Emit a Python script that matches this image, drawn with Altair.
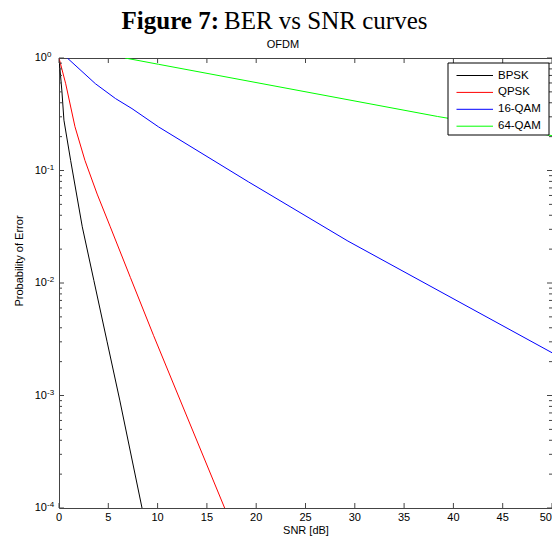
import altair as alt
import pandas as pd

# ---- data (SNR in dB, probability of error) ----
series = ["BPSK", "QPSK", "16-QAM", "64-QAM"]
colors = ["#000000", "#ff0000", "#0000ff", "#00ff00"]

bpsk_snr = [0, 0.3, 0.5, 1.18, 2.36, 3.54, 4.88, 6.16, 8.42]
bpsk_ber = [1.0, 0.5, 0.28, 0.123, 0.0316, 0.0105, 0.003, 0.00091, 0.0001]

qpsk_snr = [0, 0.68, 1.62, 2.63, 3.87, 5.2, 7.24, 9.6, 12.2, 16.8]
qpsk_ber = [1.0, 0.59, 0.245, 0.123, 0.0617, 0.0316, 0.0112, 0.0034, 0.00095, 0.0001]

qam16_snr = [0.84, 3.7, 5.73, 7.4, 10.1, 19.2, 29.3, 50]
qam16_ber = [1.0, 0.59, 0.436, 0.355, 0.244, 0.0794, 0.0236, 0.0024]

qam64_snr = [6.7, 10.1, 38.4, 50]
qam64_ber = [1.0, 0.879, 0.302, 0.204]

x_ticks = [0, 5, 10, 15, 20, 25, 30, 35, 40, 45, 50]
y_major = [1, 0.1, 0.01, 0.001, 0.0001]
y_exp = ["0", "-1", "-2", "-3", "-4"]
y_minor = [m * 10.0 ** e for e in [-4, -3, -2, -1] for m in range(2, 10)]

rows = []
for name, snrs, bers in zip(series,
                            [bpsk_snr, qpsk_snr, qam16_snr, qam64_snr],
                            [bpsk_ber, qpsk_ber, qam16_ber, qam64_ber]):
    for i, (s, b) in enumerate(zip(snrs, bers)):
        rows.append({"series": name, "snr": s, "ber": b, "order": i})
df = pd.DataFrame(rows)

W, H = 493, 450
AX = "#444444"
FONT = "Liberation Sans"
xs = alt.Scale(domain=[0, 50], nice=False, zero=False)
ys = alt.Scale(type="log", domain=[1e-4, 1], nice=False)

lines = alt.Chart(df).mark_line(strokeWidth=1, clip=True).encode(
    x=alt.X("snr:Q", scale=xs, axis=None),
    y=alt.Y("ber:Q", scale=ys, axis=None),
    color=alt.Color("series:N", scale=alt.Scale(domain=series, range=colors), legend=None),
    order="order:Q",
)

xt = pd.DataFrame({"snr": x_ticks})
xt_inner = pd.DataFrame({"snr": x_ticks[:-1]})
xt_last = pd.DataFrame({"snr": x_ticks[-1:]})
ymj = pd.DataFrame({"ber": y_major, "exp": y_exp})
ymn = pd.DataFrame({"ber": y_minor})

def xrule(y1, y2):
    return alt.Chart(xt).mark_rule(color=AX, strokeWidth=1).encode(
        x=alt.X("snr:Q", scale=xs, axis=None), y=alt.value(y1), y2=alt.value(y2))

def yrule(data, x1, x2):
    return alt.Chart(data).mark_rule(color=AX, strokeWidth=1).encode(
        y=alt.Y("ber:Q", scale=ys, axis=None), x=alt.value(x1), x2=alt.value(x2))

ticks = [
    xrule(H, H - 5), xrule(0, 5),
    yrule(ymj, 0, 5), yrule(ymj, W - 5, W),
    yrule(ymn, 0, 3), yrule(ymn, W - 3, W),
]

def xlabels(data, align):
    return alt.Chart(data).mark_text(align=align, baseline="middle", font=FONT,
                                     fontSize=11, color="#000").encode(
        x=alt.X("snr:Q", scale=xs, axis=None), y=alt.value(H + 10),
        text=alt.Text("snr:Q", format="d"))

xlab = [xlabels(xt_inner, "center"), xlabels(xt_last, "right")]

ylab10 = alt.Chart(ymj).mark_text(align="right", baseline="middle", font=FONT,
                                  fontSize=11, color="#000").encode(
    y=alt.Y("ber:Q", scale=ys, axis=None), x=alt.value(-12), text=alt.value("10"))
ylabexp = alt.Chart(ymj).mark_text(align="left", baseline="alphabetic", font=FONT,
                                   fontSize=8, dy=-1, color="#000").encode(
    y=alt.Y("ber:Q", scale=ys, axis=None), x=alt.value(-12), text="exp:N")

one = pd.DataFrame({"k": [0]})

def label(text, x, y, **kw):
    return alt.Chart(one).mark_text(**kw).encode(
        x=alt.value(x), y=alt.value(y), text=alt.value(text))

texts = [
    label("Figure 7:", 160, -29, align="right", baseline="alphabetic",
          font="Liberation Serif", fontSize=25, fontWeight="bold", color="#000"),
    label("BER vs SNR curves", 165, -29, align="left", baseline="alphabetic",
          font="Liberation Serif", fontSize=25, color="#000"),
    label("OFDM", 224, -10, align="center", baseline="alphabetic",
          font=FONT, fontSize=11, color="#000"),
    label("Probability of Error", -39, 203, align="center", baseline="middle",
          angle=270, font=FONT, fontSize=11, color="#000"),
    label("SNR [dB]", 247, H + 23, align="center", baseline="middle",
          font=FONT, fontSize=11, color="#000"),
]

# legend box
legend = [alt.Chart(one).mark_rect(fill="white", stroke="#000", strokeWidth=1).encode(
    x=alt.value(389), x2=alt.value(490), y=alt.value(5), y2=alt.value(77))]
for i, (name, c) in enumerate(zip(series, colors)):
    yy = 17.5 + 16.9 * i
    legend.append(alt.Chart(one).mark_rule(color=c, strokeWidth=1).encode(
        x=alt.value(397.5), x2=alt.value(434), y=alt.value(yy)))
    legend.append(label(name, 439, yy, align="left", baseline="middle",
                        font=FONT, fontSize=11.5, color="#000"))

chart = alt.layer(lines, *ticks, *xlab, ylab10, ylabexp, *texts, *legend).properties(
    width=W, height=H,
    autosize=alt.AutoSizeParams(type="none"),
    padding={"left": 51, "top": 50, "right": 0, "bottom": 30},
    background="white",
).configure_view(stroke=AX, strokeWidth=1)

chart.save("out.html", embed_options={"renderer": "svg", "actions": False})
